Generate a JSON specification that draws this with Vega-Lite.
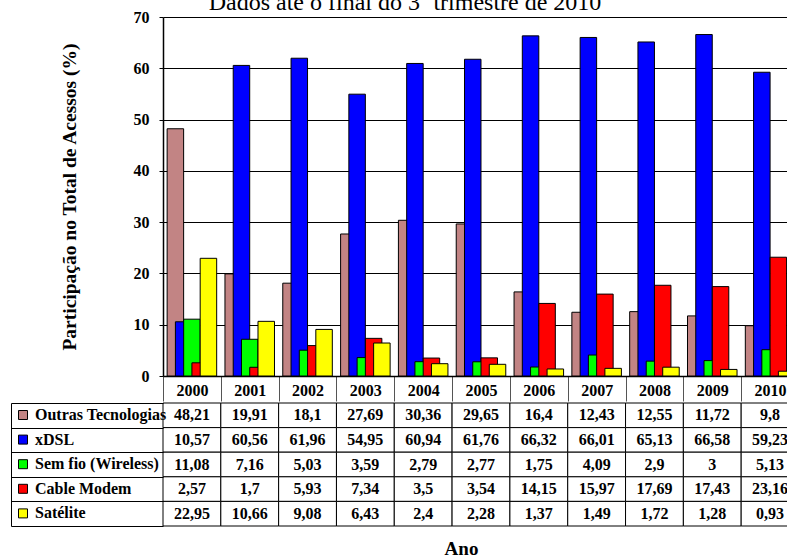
{
  "$schema": "https://vega.github.io/schema/vega-lite/v6.json",
  "description": "Participação das tecnologias no total de acessos de banda larga, 2000-2010",
  "padding": {"left": 10, "top": -9, "right": -11, "bottom": 0},
  "title": {
    "text": "Dados até o final do 3º trimestre de 2010",
    "font": "Liberation Serif",
    "fontSize": 24,
    "fontWeight": "normal",
    "color": "black",
    "anchor": "middle",
    "baseline": "alphabetic",
    "offset": -25
  },
  "config": {
    "font": "Liberation Serif",
    "view": {"stroke": null},
    "locale": {
      "number": {"decimal": ",", "thousands": ".", "grouping": [3], "currency": ["R$ ", ""]}
    },
    "axis": {
      "labelFont": "Liberation Serif",
      "titleFont": "Liberation Serif",
      "labelColor": "black",
      "titleColor": "black",
      "labelFontWeight": "bold",
      "titleFontWeight": "bold",
      "labelFontSize": 16,
      "domainColor": "black",
      "tickColor": "black"
    }
  },
  "data": {
    "values": [
      {"ano": "2000", "serie": "Outras Tecnologias", "valor": 48.21},
      {"ano": "2001", "serie": "Outras Tecnologias", "valor": 19.91},
      {"ano": "2002", "serie": "Outras Tecnologias", "valor": 18.1},
      {"ano": "2003", "serie": "Outras Tecnologias", "valor": 27.69},
      {"ano": "2004", "serie": "Outras Tecnologias", "valor": 30.36},
      {"ano": "2005", "serie": "Outras Tecnologias", "valor": 29.65},
      {"ano": "2006", "serie": "Outras Tecnologias", "valor": 16.4},
      {"ano": "2007", "serie": "Outras Tecnologias", "valor": 12.43},
      {"ano": "2008", "serie": "Outras Tecnologias", "valor": 12.55},
      {"ano": "2009", "serie": "Outras Tecnologias", "valor": 11.72},
      {"ano": "2010", "serie": "Outras Tecnologias", "valor": 9.8},
      {"ano": "2000", "serie": "xDSL", "valor": 10.57},
      {"ano": "2001", "serie": "xDSL", "valor": 60.56},
      {"ano": "2002", "serie": "xDSL", "valor": 61.96},
      {"ano": "2003", "serie": "xDSL", "valor": 54.95},
      {"ano": "2004", "serie": "xDSL", "valor": 60.94},
      {"ano": "2005", "serie": "xDSL", "valor": 61.76},
      {"ano": "2006", "serie": "xDSL", "valor": 66.32},
      {"ano": "2007", "serie": "xDSL", "valor": 66.01},
      {"ano": "2008", "serie": "xDSL", "valor": 65.13},
      {"ano": "2009", "serie": "xDSL", "valor": 66.58},
      {"ano": "2010", "serie": "xDSL", "valor": 59.23},
      {"ano": "2000", "serie": "Sem fio (Wireless)", "valor": 11.08},
      {"ano": "2001", "serie": "Sem fio (Wireless)", "valor": 7.16},
      {"ano": "2002", "serie": "Sem fio (Wireless)", "valor": 5.03},
      {"ano": "2003", "serie": "Sem fio (Wireless)", "valor": 3.59},
      {"ano": "2004", "serie": "Sem fio (Wireless)", "valor": 2.79},
      {"ano": "2005", "serie": "Sem fio (Wireless)", "valor": 2.77},
      {"ano": "2006", "serie": "Sem fio (Wireless)", "valor": 1.75},
      {"ano": "2007", "serie": "Sem fio (Wireless)", "valor": 4.09},
      {"ano": "2008", "serie": "Sem fio (Wireless)", "valor": 2.9},
      {"ano": "2009", "serie": "Sem fio (Wireless)", "valor": 3},
      {"ano": "2010", "serie": "Sem fio (Wireless)", "valor": 5.13},
      {"ano": "2000", "serie": "Cable Modem", "valor": 2.57},
      {"ano": "2001", "serie": "Cable Modem", "valor": 1.7},
      {"ano": "2002", "serie": "Cable Modem", "valor": 5.93},
      {"ano": "2003", "serie": "Cable Modem", "valor": 7.34},
      {"ano": "2004", "serie": "Cable Modem", "valor": 3.5},
      {"ano": "2005", "serie": "Cable Modem", "valor": 3.54},
      {"ano": "2006", "serie": "Cable Modem", "valor": 14.15},
      {"ano": "2007", "serie": "Cable Modem", "valor": 15.97},
      {"ano": "2008", "serie": "Cable Modem", "valor": 17.69},
      {"ano": "2009", "serie": "Cable Modem", "valor": 17.43},
      {"ano": "2010", "serie": "Cable Modem", "valor": 23.16},
      {"ano": "2000", "serie": "Satélite", "valor": 22.95},
      {"ano": "2001", "serie": "Satélite", "valor": 10.66},
      {"ano": "2002", "serie": "Satélite", "valor": 9.08},
      {"ano": "2003", "serie": "Satélite", "valor": 6.43},
      {"ano": "2004", "serie": "Satélite", "valor": 2.4},
      {"ano": "2005", "serie": "Satélite", "valor": 2.28},
      {"ano": "2006", "serie": "Satélite", "valor": 1.37},
      {"ano": "2007", "serie": "Satélite", "valor": 1.49},
      {"ano": "2008", "serie": "Satélite", "valor": 1.72},
      {"ano": "2009", "serie": "Satélite", "valor": 1.28},
      {"ano": "2010", "serie": "Satélite", "valor": 0.93}
    ]
  },
  "spacing": 0,
  "resolve": {"scale": {"color": "independent"}, "legend": {"color": "independent"}},
  "vconcat": [
    {
      "width": 636,
      "height": 359,
      "mark": {"type": "bar", "stroke": "black", "strokeWidth": 1, "width": 16.5},
      "encoding": {
        "x": {
          "field": "ano",
          "type": "ordinal",
          "scale": {"paddingInner": 0, "paddingOuter": 0},
          "axis": {
            "title": null,
            "labelAngle": 0,
            "tickBand": "extent",
            "tickSize": 25,
            "labelPadding": -19,
            "tickColor": "#555",
            "domainWidth": 1.5
          }
        },
        "xOffset": {
          "field": "serie",
          "type": "nominal",
          "sort": ["Outras Tecnologias", "xDSL", "Sem fio (Wireless)", "Cable Modem", "Satélite"],
          "scale": {"paddingInner": 0, "paddingOuter": 1.81}
        },
        "y": {
          "field": "valor",
          "type": "quantitative",
          "scale": {"domain": [0, 70]},
          "axis": {
            "values": [0, 10, 20, 30, 40, 50, 60, 70],
            "grid": true,
            "gridColor": "black",
            "gridOpacity": 1,
            "tickSize": 4,
            "labelPadding": 10,
            "title": "Participação no Total de Acessos (%)",
            "titleFontSize": 19.5,
            "titlePadding": 54,
            "domainWidth": 1.5
          }
        },
        "color": {
          "field": "serie",
          "type": "nominal",
          "scale": {
            "domain": ["Outras Tecnologias", "xDSL", "Sem fio (Wireless)", "Cable Modem", "Satélite"],
            "range": ["#c28484", "#0000ff", "#00ff00", "#ff0000", "#ffff00"]
          },
          "legend": null
        }
      }
    },
    {
      "width": 636,
      "height": 123,
      "encoding": {
        "x": {
          "field": "ano",
          "type": "ordinal",
          "scale": {"paddingInner": 0, "paddingOuter": 0},
          "axis": {
            "title": "Ano",
            "labels": false,
            "ticks": false,
            "domain": false,
            "titleFontSize": 19,
            "titlePadding": 13,
            "titleX": 298
          }
        },
        "y": {
          "field": "serie",
          "type": "nominal",
          "sort": ["Outras Tecnologias", "xDSL", "Sem fio (Wireless)", "Cable Modem", "Satélite"],
          "scale": {"paddingInner": 0, "paddingOuter": 0},
          "axis": {
            "title": null,
            "labels": false,
            "offset": 152,
            "tickBand": "extent",
            "tickSize": -152,
            "domain": true,
            "domainColor": "black",
            "tickColor": "black",
            "grid": false
          }
        }
      },
      "layer": [
        {"mark": {"type": "rect", "fill": "white", "stroke": "black", "strokeWidth": 1}},
        {
          "mark": {"type": "text", "fontSize": 16, "fontWeight": "bold", "color": "black", "font": "Liberation Serif"},
          "encoding": {"text": {"field": "valor", "type": "quantitative", "format": "~g"}}
        },
        {
          "mark": {"type": "square", "opacity": 0},
          "encoding": {
            "color": {
              "field": "serie",
              "type": "nominal",
              "scale": {
                "domain": ["Outras Tecnologias", "xDSL", "Sem fio (Wireless)", "Cable Modem", "Satélite"],
                "range": ["#c28484", "#0000ff", "#00ff00", "#ff0000", "#ffff00"]
              },
              "legend": {
                "orient": "none",
                "legendX": -148,
                "legendY": 4,
                "title": null,
                "padding": 0,
                "symbolType": "square",
                "symbolSize": 81,
                "symbolOpacity": 1,
                "symbolStrokeColor": "black",
                "symbolStrokeWidth": 1,
                "labelFont": "Liberation Serif",
                "labelFontSize": 16,
                "labelFontWeight": "bold",
                "labelColor": "black",
                "labelOffset": 4,
                "labelLimit": 200,
                "rowPadding": 8.6
              }
            }
          }
        }
      ]
    }
  ]
}
